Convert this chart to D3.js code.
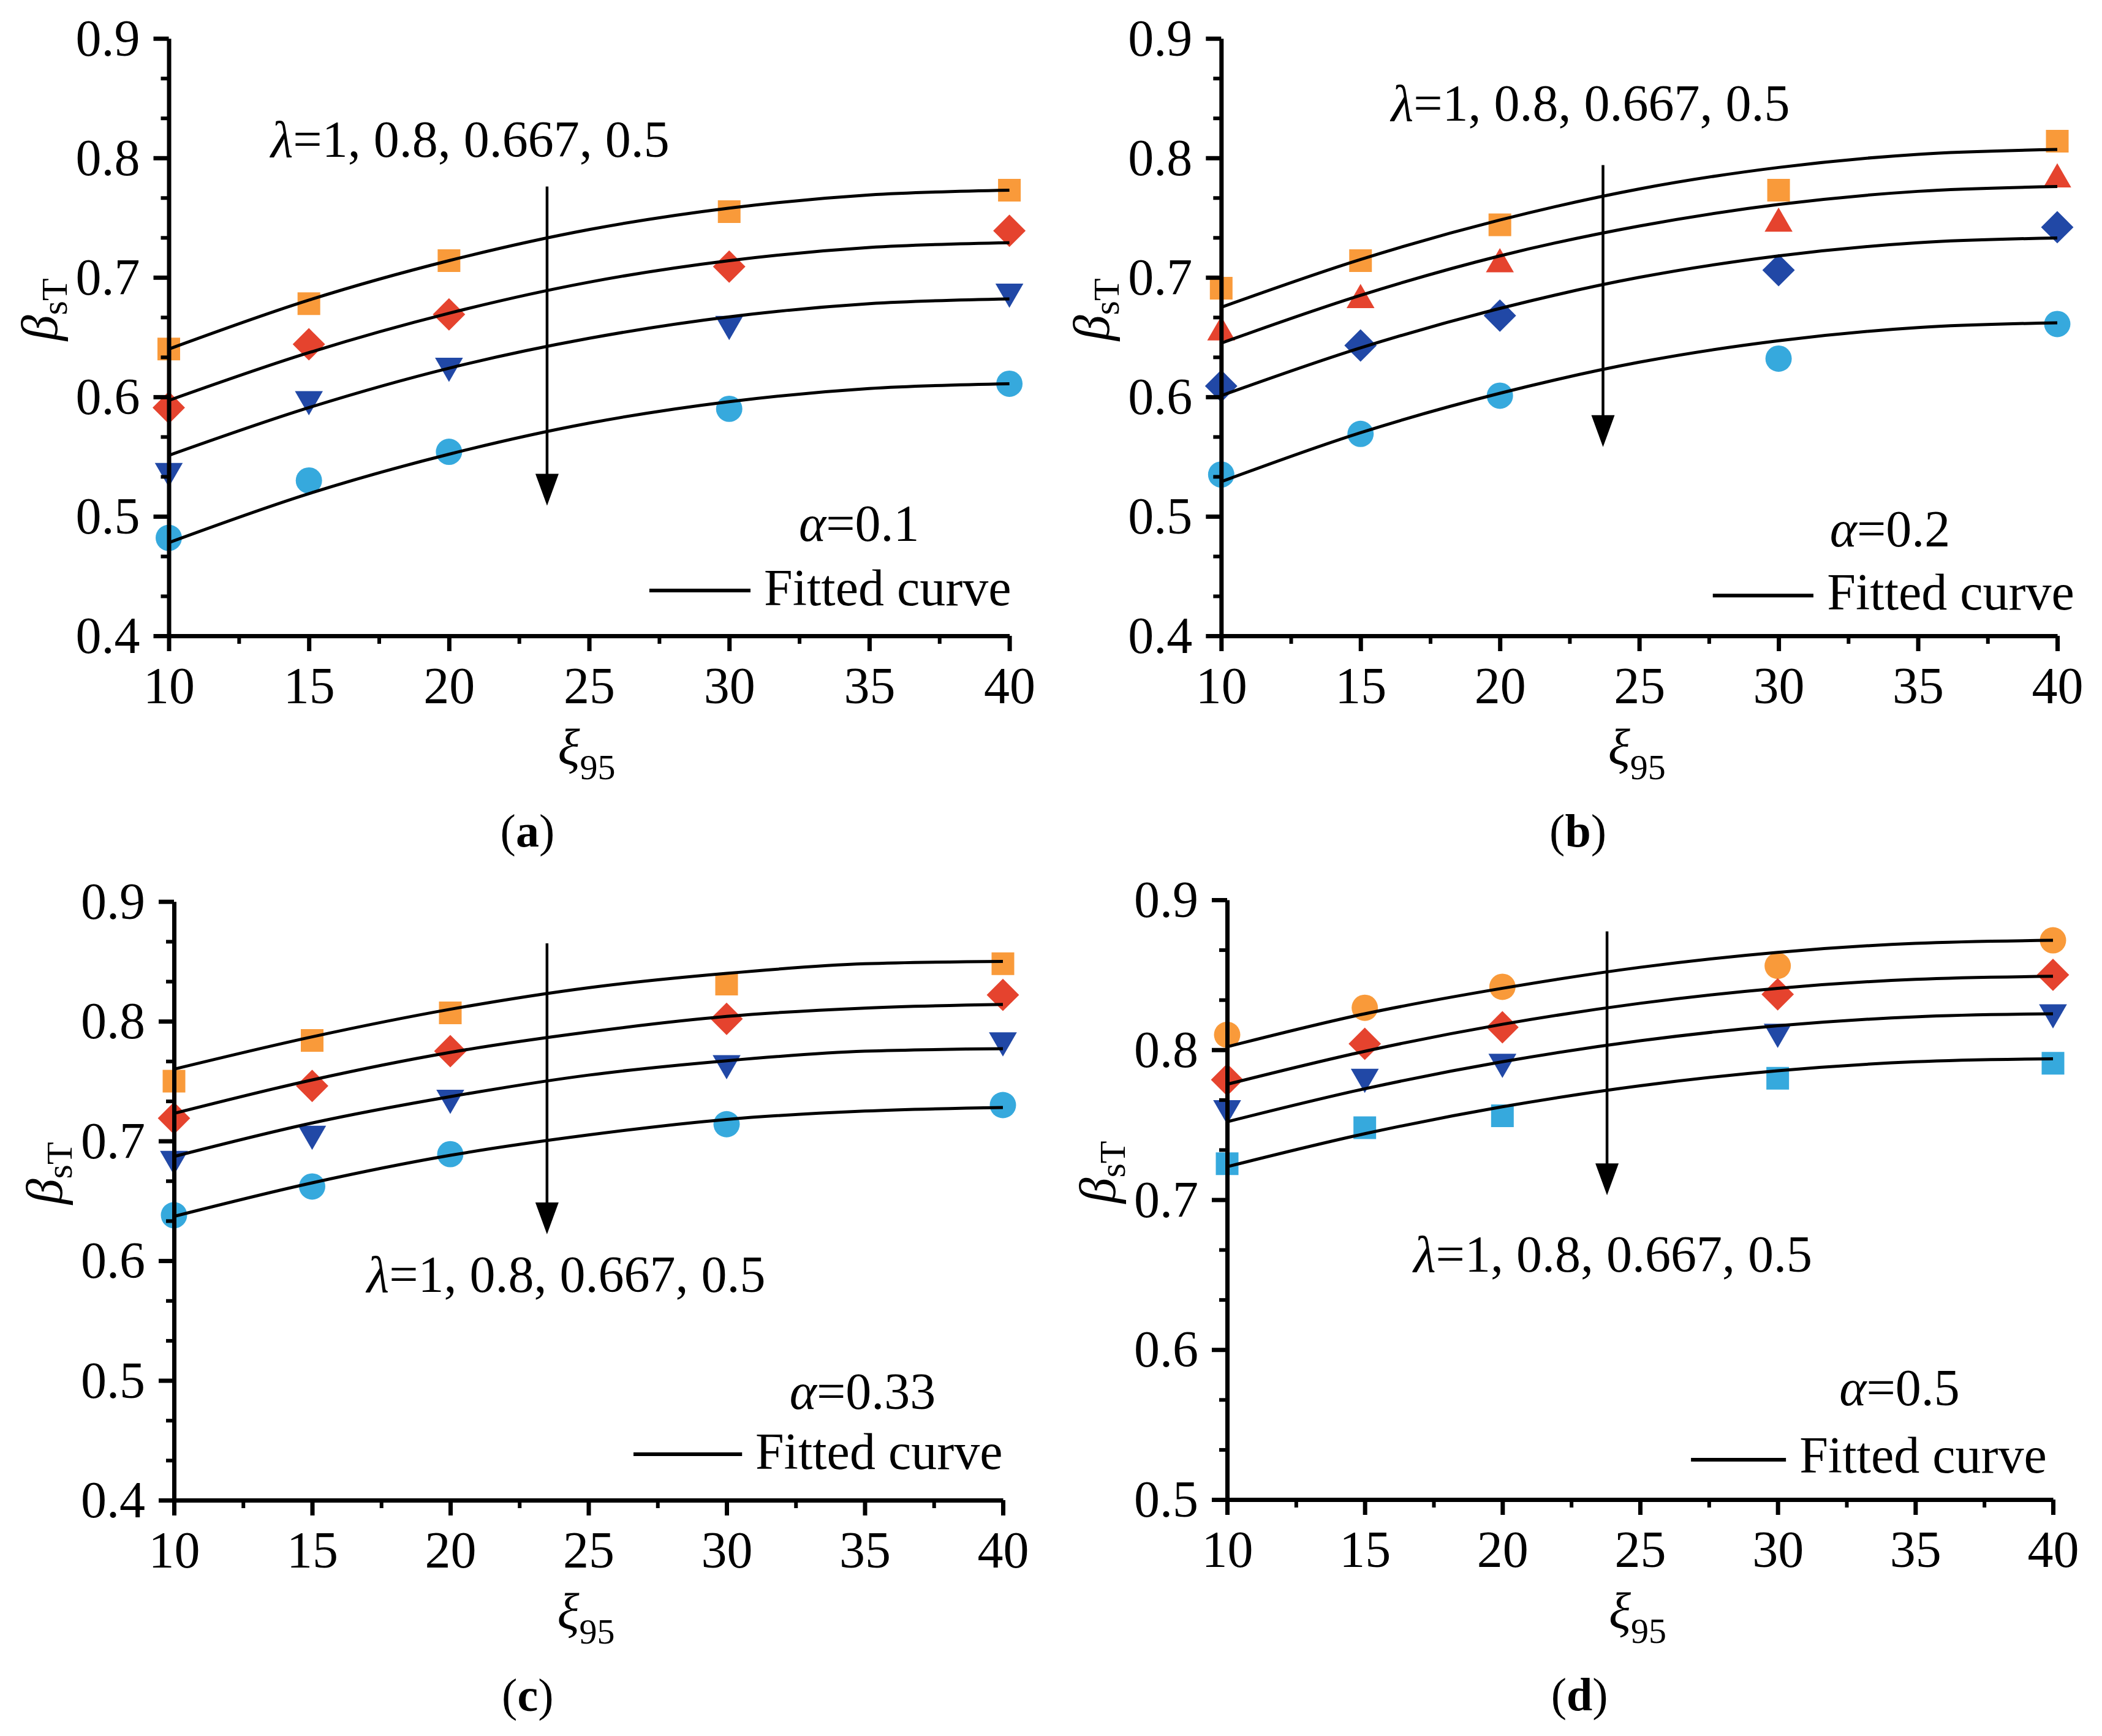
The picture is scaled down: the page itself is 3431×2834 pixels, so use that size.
<!DOCTYPE html>
<html>
<head>
<meta charset="utf-8">
<script src="https://cdn.jsdelivr.net/npm/d3@7"></script>
<style>
  body { margin: 0; background: #fff; }
  svg { display: block; }
</style>
</head>
<body>
<div id="chart"></div>
<script>
var svgWidth = 3431;
var svgHeight = 2834;

// x values of the computed points and of the read fitted curves
var xPoints = [10, 15, 20, 30, 40];
var fitX = [10, 15, 20, 25, 30, 35, 40];
var xTickValues = [10, 15, 20, 25, 30, 35, 40];

// (a) alpha = 0.1
var aSquare  = [0.640, 0.678, 0.714, 0.755, 0.773];
var aDiamond = [0.591, 0.644, 0.669, 0.709, 0.739];
var aTriDown = [0.538, 0.598, 0.626, 0.661, 0.688];
var aCircle  = [0.482, 0.530, 0.554, 0.590, 0.611];
var aFit1 = [0.640, 0.681, 0.714, 0.740, 0.758, 0.769, 0.773];
var aFit2 = [0.597, 0.637, 0.670, 0.696, 0.714, 0.725, 0.729];
var aFit3 = [0.551, 0.591, 0.624, 0.649, 0.667, 0.678, 0.682];
var aFit4 = [0.478, 0.519, 0.552, 0.578, 0.596, 0.607, 0.611];

// (b) alpha = 0.2
var bSquare  = [0.691, 0.714, 0.744, 0.773, 0.814];
var bTriUp   = [0.654, 0.681, 0.711, 0.745, 0.782];
var bDiamond = [0.609, 0.643, 0.668, 0.706, 0.742];
var bCircle  = [0.535, 0.569, 0.601, 0.632, 0.661];
var bFit1 = [0.675, 0.715, 0.748, 0.774, 0.792, 0.803, 0.807];
var bFit2 = [0.645, 0.685, 0.718, 0.743, 0.761, 0.772, 0.776];
var bFit3 = [0.601, 0.641, 0.674, 0.700, 0.718, 0.729, 0.733];
var bFit4 = [0.529, 0.570, 0.603, 0.629, 0.647, 0.658, 0.662];

// (c) alpha = 0.33
var cSquare  = [0.750, 0.784, 0.807, 0.831, 0.848];
var cDiamond = [0.719, 0.746, 0.775, 0.802, 0.822];
var cTriDown = [0.685, 0.706, 0.736, 0.765, 0.784];
var cCircle  = [0.638, 0.662, 0.689, 0.714, 0.730];
var cFit1 = [0.760, 0.787, 0.810, 0.828, 0.840, 0.848, 0.850];
var cFit2 = [0.723, 0.751, 0.774, 0.791, 0.804, 0.811, 0.814];
var cFit3 = [0.687, 0.715, 0.737, 0.755, 0.767, 0.775, 0.777];
var cFit4 = [0.637, 0.665, 0.688, 0.705, 0.718, 0.725, 0.728];

// (d) alpha = 0.5
var dCircle  = [0.810, 0.828, 0.842, 0.856, 0.873];
var dDiamond = [0.780, 0.804, 0.815, 0.837, 0.850];
var dTriDown = [0.761, 0.782, 0.792, 0.812, 0.825];
var dSquare  = [0.724, 0.748, 0.756, 0.781, 0.791];
var dFit1 = [0.802, 0.824, 0.841, 0.855, 0.865, 0.871, 0.873];
var dFit2 = [0.777, 0.799, 0.817, 0.831, 0.841, 0.847, 0.849];
var dFit3 = [0.752, 0.774, 0.792, 0.806, 0.816, 0.822, 0.824];
var dFit4 = [0.722, 0.744, 0.762, 0.776, 0.786, 0.792, 0.794];

var lambdaText = "=1, 0.8, 0.667, 0.5";

var orange = "#f99a3a", red = "#e5432e", navy = "#2148a6", sky = "#36a9dd";
var serif = "'Liberation Serif', 'Times New Roman', serif";

var panels = [
  { tag: "a", alpha: "0.1", yDomain: [0.4, 0.9], yTicks: [0.4, 0.5, 0.6, 0.7, 0.8, 0.9],
    left: 275.5, right: 1647.6, top: 62.7, bottom: 1038,
    series: [
      { v: aSquare, shape: "square", color: orange },
      { v: aDiamond, shape: "diamond", color: red },
      { v: aTriDown, shape: "triDown", color: navy },
      { v: aCircle, shape: "circle", color: sky }],
    fits: [aFit1, aFit2, aFit3, aFit4],
    arrow: { x: 23.5, y0: 0.776, y1: 0.509 },
    lam: { x: 13.64, y: 0.801 }, al: { x: 32.49, y: 0.4796 },
    leg: { x0: 27.15, x1: 30.76, y: 0.4379, tx: 31.24, ty: 0.4256 } },
  { tag: "b", alpha: "0.2", yDomain: [0.4, 0.9], yTicks: [0.4, 0.5, 0.6, 0.7, 0.8, 0.9],
    left: 1993.3, right: 3358, top: 62.7, bottom: 1038,
    series: [
      { v: bSquare, shape: "square", color: orange },
      { v: bTriUp, shape: "triUp", color: red },
      { v: bDiamond, shape: "diamond", color: navy },
      { v: bCircle, shape: "circle", color: sky }],
    fits: [bFit1, bFit2, bFit3, bFit4],
    arrow: { x: 23.7, y0: 0.794, y1: 0.558 },
    lam: { x: 16.1, y: 0.831 }, al: { x: 31.84, y: 0.4751 },
    leg: { x0: 27.64, x1: 31.25, y: 0.4337, tx: 31.74, ty: 0.4223 } },
  { tag: "c", alpha: "0.33", yDomain: [0.4, 0.9], yTicks: [0.4, 0.5, 0.6, 0.7, 0.8, 0.9],
    left: 284, right: 1637, top: 1471.7, bottom: 2449,
    series: [
      { v: cSquare, shape: "square", color: orange },
      { v: cDiamond, shape: "diamond", color: red },
      { v: cTriDown, shape: "triDown", color: navy },
      { v: cCircle, shape: "circle", color: sky }],
    fits: [cFit1, cFit2, cFit3, cFit4],
    arrow: { x: 23.5, y0: 0.865, y1: 0.622 },
    lam: { x: 16.98, y: 0.574 }, al: { x: 32.28, y: 0.4764 },
    leg: { x0: 26.63, x1: 30.56, y: 0.4384, tx: 31.04, ty: 0.4261 } },
  { tag: "d", alpha: "0.5", yDomain: [0.5, 0.9], yTicks: [0.5, 0.6, 0.7, 0.8, 0.9],
    left: 2003, right: 3351, top: 1469, bottom: 2448,
    series: [
      { v: dCircle, shape: "circle", color: orange },
      { v: dDiamond, shape: "diamond", color: red },
      { v: dTriDown, shape: "triDown", color: navy },
      { v: dSquare, shape: "square", color: sky }],
    fits: [dFit1, dFit2, dFit3, dFit4],
    arrow: { x: 23.8, y0: 0.879, y1: 0.703 },
    lam: { x: 16.77, y: 0.652 }, al: { x: 32.24, y: 0.563 },
    leg: { x0: 26.85, x1: 30.30, y: 0.5266, tx: 30.79, ty: 0.5178 } }
];

var svg = d3.select("#chart")
  .append("svg")
  .attr("width", svgWidth)
  .attr("height", svgHeight)
  .style("font-family", serif);

// marker shapes
function markerPath(shape) {
  if (shape === "square") return d3.symbol().type(d3.symbolSquare).size(1369)();
  if (shape === "diamond") return d3.symbol().type(d3.symbolSquare).size(1400)();
  if (shape === "circle") return d3.symbol().type(d3.symbolCircle).size(1450)();
  return d3.symbol().type(d3.symbolTriangle).size(900)();
}
function markerRotate(shape) {
  if (shape === "diamond") return 45;
  if (shape === "triDown") return 180;
  return 0;
}

function drawPanel(p) {
  var x = d3.scaleLinear().domain([10, 40]).range([p.left, p.right]);
  var y = d3.scaleLinear().domain(p.yDomain).range([p.bottom, p.top]);
  var g = svg.append("g").attr("class", "panel-" + p.tag);

  // computed points
  p.series.forEach(function(s) {
    g.selectAll(null)
      .data(xPoints.map(function(xv, i) { return [xv, s.v[i]]; }))
      .enter()
      .append("path")
      .attr("d", markerPath(s.shape))
      .attr("transform", d => `translate(${x(d[0])},${y(d[1])}) rotate(${markerRotate(s.shape)})`)
      .attr("fill", s.color);
  });

  // fitted curves, drawn over the points
  var line = d3.line()
    .x(d => x(d[0]))
    .y(d => y(d[1]))
    .curve(d3.curveMonotoneX);

  p.fits.forEach(function(f) {
    g.append("path")
      .datum(fitX.map(function(xv, i) { return [xv, f[i]]; }))
      .attr("d", line)
      .attr("fill", "none")
      .attr("stroke", "#000")
      .attr("stroke-width", 5);
  });

  // minor ticks
  var xMinor = d3.range(12.5, 40, 5);
  var yStep = 0.1 / 3;
  var yMinor = [];
  for (var t = p.yDomain[0]; t < p.yDomain[1] - 0.001; t += 0.1) {
    yMinor.push(t + yStep, t + 2 * yStep);
  }

  g.append("g")
    .attr("transform", `translate(0,${p.bottom})`)
    .call(d3.axisBottom(x).tickValues(xMinor).tickSize(13).tickFormat(""))
    .call(a => a.select(".domain").remove())
    .selectAll("line").attr("stroke-width", 6);

  g.append("g")
    .attr("transform", `translate(${p.left},0)`)
    .call(d3.axisLeft(y).tickValues(yMinor).tickSize(13).tickFormat(""))
    .call(a => a.select(".domain").remove())
    .selectAll("line").attr("stroke-width", 6);

  // main axes
  var xAxis = g.append("g")
    .attr("transform", `translate(0,${p.bottom})`)
    .call(d3.axisBottom(x).tickValues(xTickValues).tickSize(25).tickSizeOuter(0).tickPadding(25));
  var yAxis = g.append("g")
    .attr("transform", `translate(${p.left},0)`)
    .call(d3.axisLeft(y).tickValues(p.yTicks).tickSize(25).tickSizeOuter(0).tickPadding(22)
      .tickFormat(d3.format(".1f")));

  [xAxis, yAxis].forEach(function(a) {
    a.attr("font-family", serif).attr("font-size", 84);
    a.select(".domain").attr("stroke-width", 7);
    a.selectAll(".tick line").attr("stroke-width", 7);
    a.selectAll(".tick text").attr("fill", "#000");
  });
  yAxis.selectAll(".tick text").attr("dy", "0.33em");

  // axis titles
  var xt = g.append("text")
    .attr("x", (p.left + p.right) / 2 - 4)
    .attr("y", p.bottom + 210)
    .attr("text-anchor", "middle")
    .attr("font-size", 84);
  xt.append("tspan").attr("font-style", "italic").text("ξ");
  xt.append("tspan").attr("font-size", 58).attr("dy", 24).text("95");

  var yt = g.append("text")
    .attr("transform", `translate(${p.left - 183},${(p.top + p.bottom) / 2 - 45}) rotate(-90)`)
    .attr("text-anchor", "middle")
    .attr("font-size", 84);
  yt.append("tspan").attr("font-style", "italic").text("β");
  yt.append("tspan").attr("font-size", 60).attr("dy", 16).text("sT");

  // arrow for decreasing lambda
  var ax = x(p.arrow.x), tipY = y(p.arrow.y1);
  g.append("line")
    .attr("x1", ax).attr("x2", ax)
    .attr("y1", y(p.arrow.y0)).attr("y2", tipY - 40)
    .attr("stroke", "#000")
    .attr("stroke-width", 4.5);
  g.append("path")
    .attr("d", `M${ax - 19},${tipY - 52} L${ax + 19},${tipY - 52} L${ax},${tipY} Z`)
    .attr("fill", "#000");

  var lt = g.append("text")
    .attr("x", x(p.lam.x))
    .attr("y", y(p.lam.y))
    .attr("font-size", 84);
  lt.append("tspan").attr("font-style", "italic").text("λ");
  lt.append("tspan").text(lambdaText);

  var at = g.append("text")
    .attr("x", x(p.al.x))
    .attr("y", y(p.al.y))
    .attr("font-size", 84);
  at.append("tspan").attr("font-style", "italic").text("α");
  at.append("tspan").text("=" + p.alpha);

  // legend
  g.append("line")
    .attr("x1", x(p.leg.x0)).attr("x2", x(p.leg.x1))
    .attr("y1", y(p.leg.y)).attr("y2", y(p.leg.y))
    .attr("stroke", "#000")
    .attr("stroke-width", 6);
  g.append("text")
    .attr("x", x(p.leg.tx))
    .attr("y", y(p.leg.ty))
    .attr("font-size", 84)
    .text("Fitted curve");

  // sub-figure label
  var st = g.append("text")
    .attr("x", x(22.8))
    .attr("y", p.bottom + 344)
    .attr("text-anchor", "middle")
    .attr("font-size", 76);
  st.append("tspan").text("(");
  st.append("tspan").attr("font-weight", "bold").text(p.tag);
  st.append("tspan").text(")");
}

panels.forEach(drawPanel);
</script>
</body>
</html>
